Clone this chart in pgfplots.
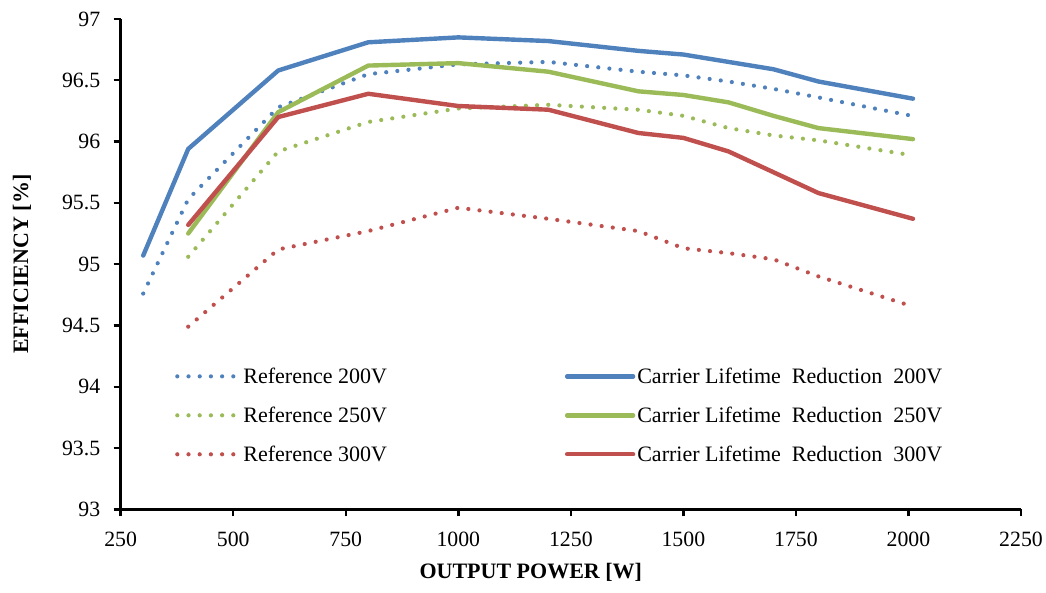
\documentclass[border=0pt]{standalone}
\usepackage{fontspec}
\setmainfont{Liberation Serif}
\usepackage{pgfplots}
\pgfplotsset{compat=1.18}
\definecolor{exblue}{HTML}{4F81BD}
\definecolor{exred}{HTML}{C0504D}
\definecolor{exgreen}{HTML}{9BBB59}

% Measured efficiency, reference devices (dotted) and carrier lifetime reduction (solid)
\pgfplotstableread{
P     eff
300   94.76
400   95.53
600   96.28
800   96.55
1000  96.63
1200  96.65
1400  96.57
1500  96.54
1600  96.49
1700  96.43
1800  96.36
2008  96.21
}\refA
\pgfplotstableread{
P     eff
400   95.06
600   95.92
800   96.16
1000  96.27
1200  96.30
1400  96.26
1500  96.21
1600  96.11
1700  96.05
1800  96.01
2005  95.89
}\refB
\pgfplotstableread{
P     eff
400   94.49
600   95.12
800   95.27
1000  95.46
1200  95.37
1400  95.27
1500  95.13
1600  95.09
1700  95.04
1800  94.90
2005  94.66
}\refC
\pgfplotstableread{
P     eff
300   95.07
400   95.94
600   96.58
800   96.81
1000  96.85
1200  96.82
1400  96.74
1500  96.71
1600  96.65
1700  96.59
1800  96.49
2010  96.35
}\clrA
\pgfplotstableread{
P     eff
400   95.25
600   96.24
800   96.62
1000  96.64
1200  96.57
1400  96.41
1500  96.38
1600  96.32
1700  96.21
1800  96.11
2010  96.02
}\clrB
\pgfplotstableread{
P     eff
400   95.32
600   96.20
800   96.39
1000  96.29
1200  96.26
1400  96.07
1500  96.03
1600  95.92
1700  95.75
1800  95.58
2010  95.37
}\clrC

\begin{document}
\begin{tikzpicture}[font=\fontsize{22bp}{26bp}\selectfont]
\begin{axis}[
  at={(0,0)}, anchor=south west,
  scale only axis, width=900.3bp, height=490.3bp,
  xmin=250, xmax=2250, ymin=93, ymax=97,
  xtick={250,500,750,1000,1250,1500,1750,2000,2250},
  ytick={93,93.5,94,94.5,95,95.5,96,96.5,97},
  scaled x ticks=false, scaled y ticks=false,
  /pgf/number format/assume math mode=true,
  /pgf/number format/1000 sep={},
  axis lines=left,
  axis line style={-, line width=2.8bp, black},
  tick style={line width=2.4bp, black},
  tick align=outside, major tick length=7bp,
  every tick label/.append style={font=\fontsize{21.8bp}{25bp}\selectfont},
  yticklabel style={anchor=east, xshift=-10bp},
  xticklabel style={anchor=north, yshift=-12bp},
  xlabel={\bfseries OUTPUT POWER [W]},
  xlabel style={at={(axis description cs:0.4555,0)}, anchor=base, yshift=-69bp},
  ylabel={\bfseries EFFICIENCY [\%]},
  ylabel style={at={(axis description cs:0,0.5)}, anchor=center, yshift=98.7bp},
  clip=false,
  legend columns=2,
  legend cell align=left,
  legend style={draw=none, fill=none, at={(axis description cs:0.057,0.297)}, anchor=north west,
    font=\fontsize{22bp}{26bp}\selectfont,
    row sep=18bp,
    /tikz/every even column/.append style={column sep=176bp}},
  legend image code/.code={\draw[#1] (0bp,0bp) -- (62bp,0bp);},
  solid line/.style={line width=4.4bp, line join=round, line cap=round,
    legend image code/.code={\draw[##1] (0bp,0bp) -- (66bp,0bp);}},
  dot line/.style={line width=4.2bp, line cap=round, dash pattern=on 0bp off 11.2bp},
]
\addplot[exblue, dot line] table[x=P, y=eff] {\refA};
\addlegendentry{Reference 200V}
\addplot[exblue, solid line] table[x=P, y=eff] {\clrA};
\addlegendentry{Carrier Lifetime\ \ Reduction\ \ 200V}
\addplot[exgreen, dot line] table[x=P, y=eff] {\refB};
\addlegendentry{Reference 250V}
\addplot[exgreen, solid line] table[x=P, y=eff] {\clrB};
\addlegendentry{Carrier Lifetime\ \ Reduction\ \ 250V}
\addplot[exred, dot line] table[x=P, y=eff] {\refC};
\addlegendentry{Reference 300V}
\addplot[exred, solid line] table[x=P, y=eff] {\clrC};
\addlegendentry{Carrier Lifetime\ \ Reduction\ \ 300V}
\end{axis}
\pgfresetboundingbox
\path[use as bounding box] (-120.7bp,-83.7bp) rectangle (925.3bp,509.3bp);
\end{tikzpicture}
\end{document}
